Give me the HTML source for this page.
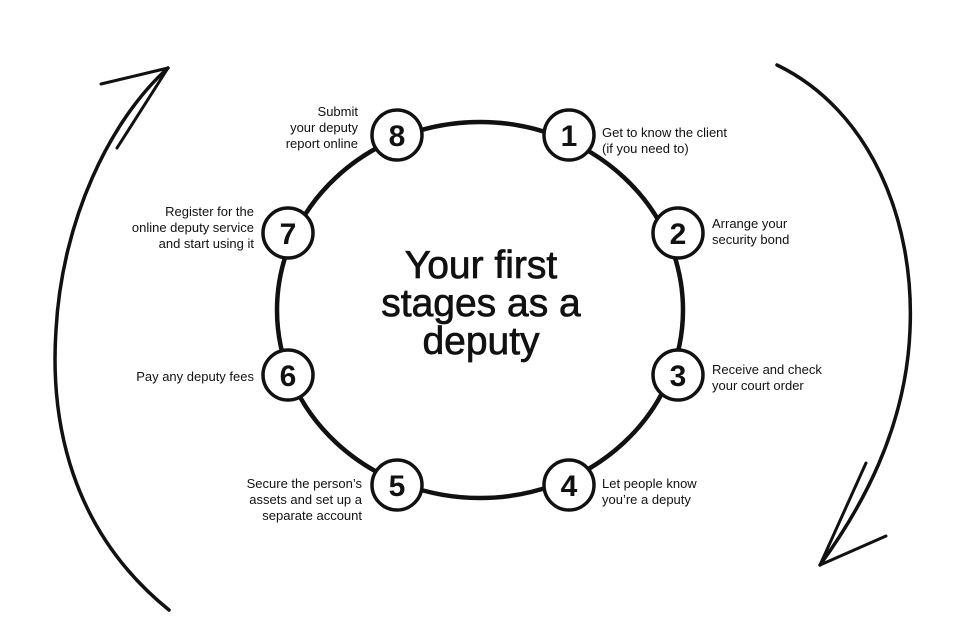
<!DOCTYPE html>
<html><head><meta charset="utf-8"><style>
html,body{margin:0;padding:0;background:#fff;}
svg{display:block;}
text{font-family:"Liberation Sans",Arial,sans-serif;fill:#111;}
.l{font-size:13px;}
.n{font-size:30px;font-weight:bold;text-anchor:middle;}
.t{font-size:39px;text-anchor:middle;stroke:#111;stroke-width:0.7;}
</style></head><body>
<svg width="960" height="640" viewBox="0 0 960 640">
<rect width="960" height="640" fill="#fff"/>
<path d="M169,610 C70,530 50,420 56,330 C62,220 110,120 168,68" fill="none" stroke="#111" stroke-width="3.5" stroke-linecap="round"/>
<path d="M168,68 L101,84 M168,68 L117,148" fill="none" stroke="#111" stroke-width="3" stroke-linecap="round"/>
<path d="M777,65 C870,110 915,220 910,330 C906,430 860,510 820,565" fill="none" stroke="#111" stroke-width="3.5" stroke-linecap="round"/>
<path d="M820,565 L866,463 M820,565 L886,536" fill="none" stroke="#111" stroke-width="3" stroke-linecap="round"/>
<ellipse cx="480" cy="310" rx="203" ry="188" fill="none" stroke="#111" stroke-width="4.5"/>
<g fill="#fff" stroke="#111" stroke-width="3.5">
<circle cx="397" cy="135" r="25"/><circle cx="569" cy="135" r="25"/>
<circle cx="288" cy="233" r="25"/><circle cx="678" cy="233" r="25"/>
<circle cx="288" cy="375" r="25"/><circle cx="678" cy="375" r="25"/>
<circle cx="397" cy="485" r="25"/><circle cx="569" cy="485" r="25"/>
</g>
<text class="n" x="397" y="146">8</text><text class="n" x="569" y="146">1</text>
<text class="n" x="288" y="244">7</text><text class="n" x="678" y="244">2</text>
<text class="n" x="288" y="386">6</text><text class="n" x="678" y="386">3</text>
<text class="n" x="397" y="496">5</text><text class="n" x="569" y="496">4</text>
<text class="t" x="481" y="278">Your first</text>
<text class="t" x="481" y="316">stages as a</text>
<text class="t" x="481" y="354">deputy</text>
<g class="l">
<text x="602" y="137">Get to know the client</text>
<text x="602" y="153">(if you need to)</text>
<text x="712" y="228">Arrange your</text>
<text x="712" y="244">security bond</text>
<text x="712" y="374">Receive and check</text>
<text x="712" y="390">your court order</text>
<text x="602" y="488">Let people know</text>
<text x="602" y="504">you’re a deputy</text>
</g>
<g class="l" text-anchor="end">
<text x="358" y="116">Submit</text>
<text x="358" y="132">your deputy</text>
<text x="358" y="148">report online</text>
<text x="254" y="216">Register for the</text>
<text x="254" y="232">online deputy service</text>
<text x="254" y="248">and start using it</text>
<text x="254" y="381">Pay any deputy fees</text>
<text x="362" y="488">Secure the person’s</text>
<text x="362" y="504">assets and set up a</text>
<text x="362" y="520">separate account</text>
</g>
</svg>
</body></html>
